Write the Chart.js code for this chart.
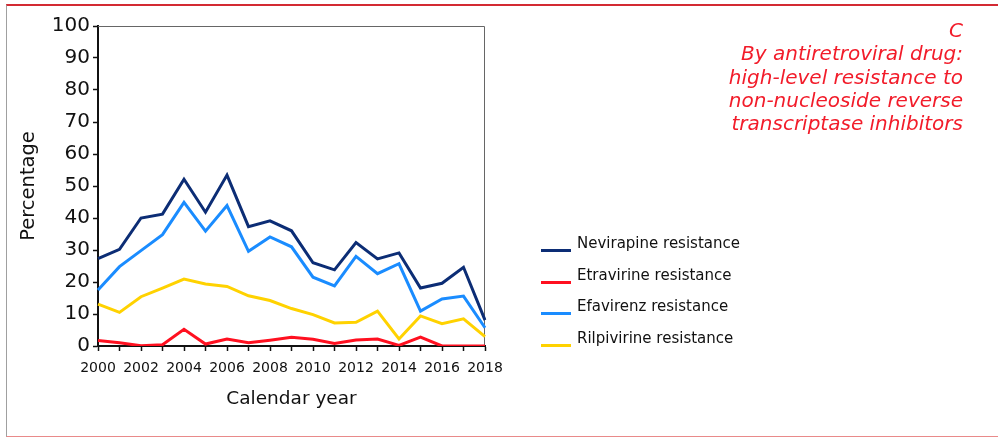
<!DOCTYPE html>
<html>
<head>
<meta charset="utf-8">
<script src="https://cdn.jsdelivr.net/npm/chart.js@4"></script>
<style>
  html, body { margin: 0; padding: 0; background: #fff; }
  #cadre {
    position: absolute; left: 6px; top: 4px; width: 992px; height: 433px;
    border-top: 2px solid #d32a33; border-left: 1px solid #a0a0a0; border-bottom: 1px solid #e98a8a;
    box-sizing: border-box;
  }
  #graph { position: absolute; left: 0; top: 0; }
  #titre {
    position: absolute; right: 35px; top: 19px; text-align: right;
    font-family: "DejaVu Sans", Verdana, sans-serif; font-style: italic;
    font-size: 20px; line-height: 23.3px; color: #f21c2a;
  }
  #legende {
    position: absolute; left: 541px; top: 234px;
    font-family: "DejaVu Sans", Verdana, sans-serif; font-size: 15px; color: #111;
  }
  .item { height: 31.5px; position: relative; }
  .trait { position: absolute; left: 0; top: 15px; width: 30px; height: 3px; }
  .texte { position: absolute; left: 36px; top: 0; white-space: nowrap; }
</style>
</head>
<body>
<div id="cadre"></div>
<canvas id="graph" width="998" height="439"></canvas>
<div id="titre">C<br>By antiretroviral drug:<br>high-level resistance to<br>non-nucleoside reverse<br>transcriptase inhibitors</div>
<div id="legende"></div>
<script>
// Années (axe des x)
const annees = ['2000', '2001', '2002', '2003', '2004', '2005', '2006', '2007', '2008', '2009',
                '2010', '2011', '2012', '2013', '2014', '2015', '2016', '2017', '2018'];

// Pourcentages
const nevirapine  = [27.3, 30.2, 40.0, 41.2, 52.1, 41.8, 53.4, 37.3, 39.1, 36.0, 26.0, 23.8, 32.3, 27.2, 29.1, 18.1, 19.6, 24.6, 8.1];
const etravirine  = [1.7, 1.0, 0.1, 0.4, 5.2, 0.6, 2.2, 1.0, 1.8, 2.7, 2.1, 0.8, 1.9, 2.2, 0.2, 2.8, 0, 0, 0];
const efavirenz   = [17.5, 24.8, 29.8, 34.8, 44.9, 35.9, 43.9, 29.6, 34.1, 31.0, 21.5, 18.8, 28.0, 22.6, 25.7, 10.9, 14.7, 15.6, 5.7];
const rilpivirine = [13.1, 10.5, 15.4, 18.1, 20.9, 19.4, 18.6, 15.7, 14.2, 11.7, 9.8, 7.2, 7.4, 10.9, 2.2, 9.4, 7.0, 8.5, 2.9];

// Graduations de l'axe des y
const graduationsY = [0, 10, 20, 30, 40, 50, 60, 70, 80, 90, 100];

const police = '"DejaVu Sans", Verdana, sans-serif';

// Cadre fin en haut et à droite de la zone de tracé
const cadrePlugin = {
    id: 'cadrePlugin',
    beforeDatasetsDraw(chart) {
        const { ctx, chartArea } = chart;
        ctx.save();
        ctx.strokeStyle = '#666';
        ctx.lineWidth = 1;
        ctx.beginPath();
        ctx.moveTo(chartArea.left, chartArea.top + 0.5);
        ctx.lineTo(chartArea.right - 0.5, chartArea.top + 0.5);
        ctx.lineTo(chartArea.right - 0.5, chartArea.bottom);
        ctx.stroke();
        ctx.restore();
    }
};

function serie(label, data, couleur) {
    return {
        label: label,
        data: data,
        borderColor: couleur,
        backgroundColor: couleur,
        borderWidth: 3,
        pointRadius: 0,
        tension: 0,
        fill: false
    };
}

const ctx = document.getElementById('graph').getContext('2d');
const graphique = new Chart(ctx, {
    type: 'line',
    data: {
        labels: annees,
        datasets: [
            serie('Nevirapine resistance', nevirapine, '#0c2d75'),
            serie('Etravirine resistance', etravirine, '#ff1020'),
            serie('Efavirenz resistance', efavirenz, '#1a8cff'),
            serie('Rilpivirine resistance', rilpivirine, '#ffd200')
        ]
    },
    options: {
        responsive: false,
        animation: false,
        layout: { padding: { left: 0, top: 26, right: 513, bottom: 0 } },
        plugins: {
            legend: { display: false },
            tooltip: { enabled: false }
        },
        scales: {
            x: {
                type: 'category',
                afterFit: (scale) => { scale.height = 93; },
                border: { color: '#111', width: 2 },
                grid: { drawOnChartArea: false, drawTicks: true, tickLength: 5, tickColor: '#111', tickWidth: 1.5 },
                ticks: {
                    autoSkip: false,
                    maxRotation: 0,
                    padding: 9,
                    color: '#111',
                    font: { family: police, size: 14 },
                    callback: function (valeur, index) {
                        return index % 2 === 0 ? annees[index] : '';
                    }
                },
                title: {
                    display: true,
                    text: 'Calendar year',
                    color: '#111',
                    font: { family: police, size: 18.5 },
                    padding: { top: 0, bottom: 29 }
                }
            },
            y: {
                min: 0,
                max: 100,
                afterFit: (scale) => { scale.width = 98; },
                afterBuildTicks: (scale) => { scale.ticks = graduationsY.map(v => ({ value: v })); },
                border: { color: '#111', width: 2 },
                grid: { drawOnChartArea: false, drawTicks: true, tickLength: 5, tickColor: '#111', tickWidth: 1.5 },
                ticks: {
                    padding: 3,
                    color: '#111',
                    font: { family: police, size: 20 }
                },
                title: {
                    display: true,
                    text: 'Percentage',
                    color: '#111',
                    font: { family: police, size: 19.5 },
                    padding: { top: 17, bottom: 0 }
                }
            }
        }
    },
    plugins: [cadrePlugin]
});

// Légende HTML construite à partir des séries du graphique
const legende = document.getElementById('legende');
graphique.data.datasets.forEach(ds => {
    const item = document.createElement('div');
    item.className = 'item';
    const trait = document.createElement('div');
    trait.className = 'trait';
    trait.style.background = ds.borderColor;
    const texte = document.createElement('div');
    texte.className = 'texte';
    texte.textContent = ds.label;
    item.appendChild(trait);
    item.appendChild(texte);
    legende.appendChild(item);
});
</script>
</body>
</html>
